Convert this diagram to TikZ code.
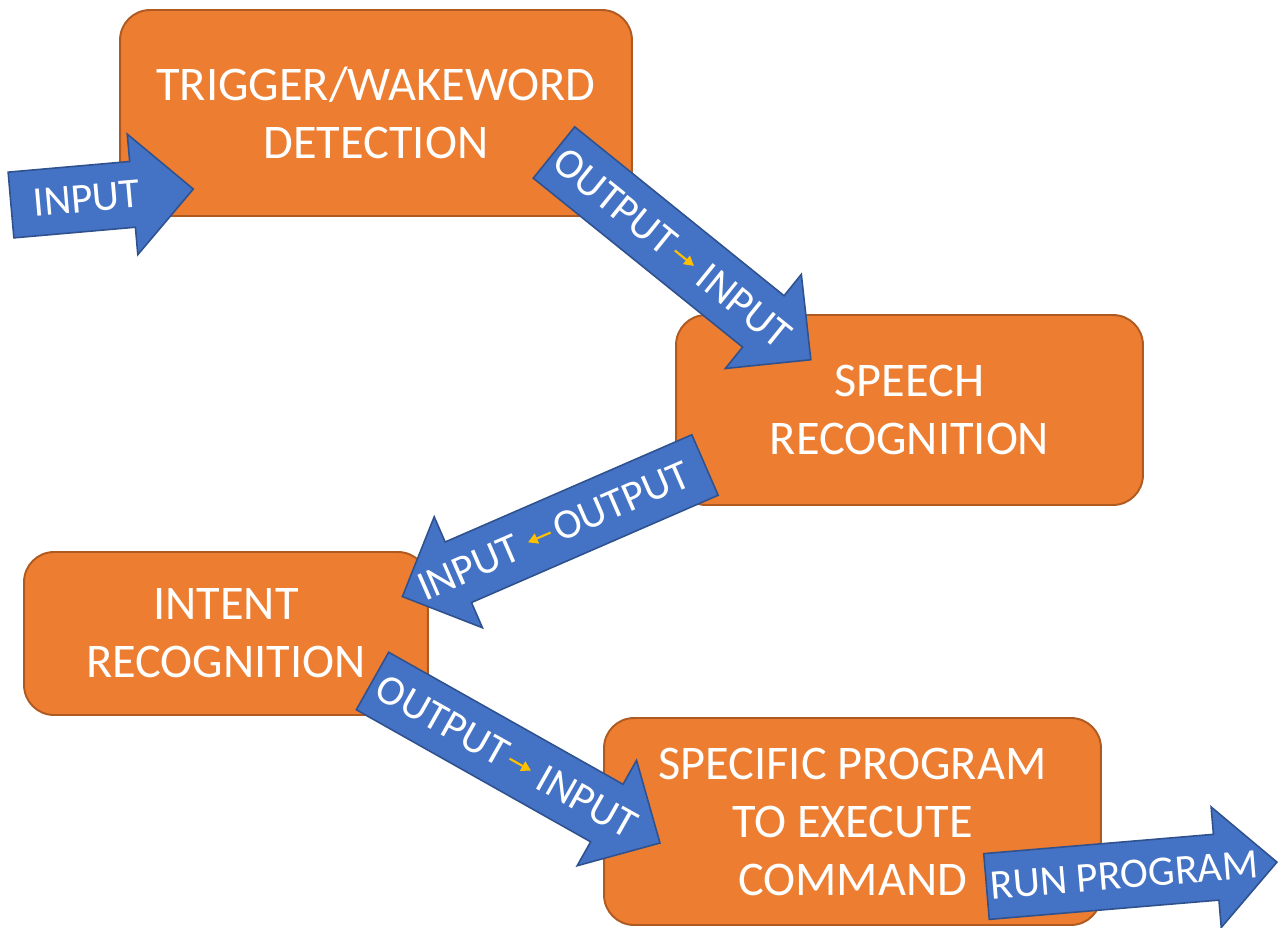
\documentclass[tikz,border=0pt]{standalone}
\usepackage{fontspec}
\setmainfont{Carlito}
\usepackage{xcolor}
\usetikzlibrary{arrows.meta}
\definecolor{boxorange}{HTML}{ED7D31}
\definecolor{boxedge}{HTML}{AE5A21}
\definecolor{arrowblue}{HTML}{4472C4}
\definecolor{arrowedge}{HTML}{2F528F}
\definecolor{arrowgold}{HTML}{FFC000}

\newcommand{\goldright}{\tikz[x=1pt, y=1pt, baseline=-7.5pt]\draw[arrowgold, line width=1.2pt, -{Triangle[length=5.5pt, width=6pt]}] (0,0) -- (14,0);}
\newcommand{\goldleft}{\tikz[x=1pt, y=1pt, baseline=-7.5pt]\draw[arrowgold, line width=1.2pt, -{Triangle[length=5.5pt, width=6pt]}] (14,0) -- (0,0);}

% #1 name, #2 tail, #3 angle, #4 length, #5 text position, #6 text angle, #7 text
\newcommand{\blockarrow}[7]{%
	\begin{scope}[shift={#2}, rotate=#3]
		\draw[arrowbody] (0,-33) -- (#4-61,-33) -- (#4-61,-60.5) -- (#4,0) -- (#4-61,60.5) -- (#4-61,33) -- (0,33) -- cycle;
		\node[arrowtext, rotate=#6] (#1) at (#5,0) {#7};
	\end{scope}}

\tikzset{
	box/.style={fill=boxorange, draw=boxedge, line width=1.1pt, rounded corners=0.6cm, text=white, align=center, font=\fontsize{27.5}{33}\selectfont},
	arrowbody/.style={fill=arrowblue, draw=arrowedge, line width=0.9pt, line join=miter},
	arrowtext/.style={text=white, inner sep=0pt, font=\fontsize{24}{28}\selectfont}
}

\begin{document}
\begin{tikzpicture}[x=0.02cm, y=-0.02cm]
	\useasboundingbox (0,0) rectangle (1285,927);
	
	\node[box, minimum width=10.24cm, minimum height=4.12cm] (wake) at (376,113) {TRIGGER/WAKEWORD\\DETECTION};
	\node[box, minimum width=9.34cm, minimum height=3.8cm] (speech) at (909.5,410) {SPEECH\\RECOGNITION};
	\node[box, minimum width=8.08cm, minimum height=3.26cm] (intent) at (226,633.5) {INTENT\\RECOGNITION};
	\node[box, minimum width=9.94cm, minimum height=4.14cm] (program) at (852.5,821.5) {SPECIFIC PROGRAM\\TO EXECUTE\\COMMAND};
	
	\blockarrow{in}{(11,205)}{5}{183}{76}{5}{INPUT}
	\blockarrow{wakespeech}{(554,152.5)}{-38.9}{330}{152}{-38.9}{OUTPUT\kern2pt\goldright\ INPUT}
	\blockarrow{speechintent}{(705,465)}{203.5}{330}{165}{23.5}{INPUT \goldleft\kern2pt OUTPUT}
	\blockarrow{intentprogram}{(372.5,681)}{-29.4}{330}{154}{-29.4}{OUTPUT\kern2pt\goldright\ INPUT}
	\blockarrow{run}{(986.5,886.5)}{4.8}{291.5}{138}{4.8}{RUN PROGRAM}
	
\end{tikzpicture}
\end{document}
